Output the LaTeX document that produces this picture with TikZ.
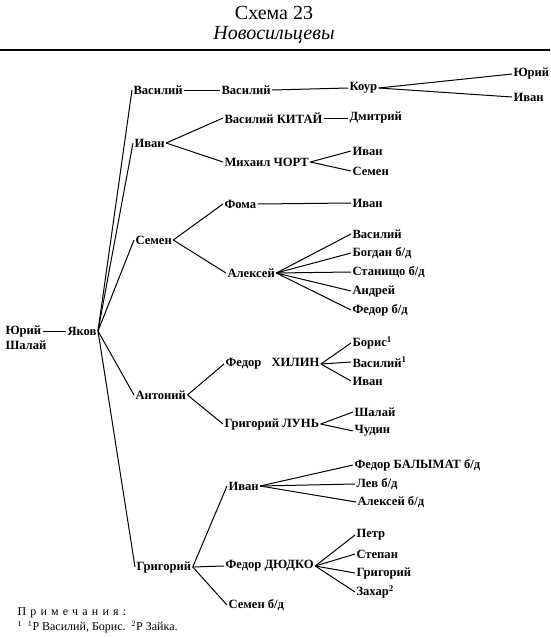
\documentclass[tikz,border=0pt]{standalone}
\usepackage{fontspec}
\setmainfont{Liberation Serif}
\begin{document}
\begin{tikzpicture}[
    x=1pt, y=-1pt,
    Person/.style={anchor=west, inner sep=1pt, font=\bfseries\fontsize{12.6}{13}\selectfont},
    every path/.style={line width=1pt},
  ]
  \useasboundingbox (0,0) rectangle (550,637);

  % heading
  \node [font=\fontsize{20}{22}\selectfont] (title) at (274,13) {Схема 23};
  \node [font=\itshape\fontsize{20}{22}\selectfont] (family) at (274,35) {Новосильцевы};
  \draw [line width=1.1pt] (0,50) -- (550,50);

  % root
  \node [Person] (yuriy) at (4,331) {Юрий};
  \node [Person] (shalay) at (4,345) {Шалай};
  \node [Person] (yakov) at (66,331) {Яков};
  \draw (yuriy.east) -- (yakov.west);

  % sons of Yakov
  \node [Person] (vas1) at (132,90) {Василий};
  \node [Person] (ivan1) at (133,143) {Иван};
  \node [Person] (semen1) at (134,240) {Семен};
  \node [Person] (anton1) at (134,395) {Антоний};
  \node [Person] (grig1) at (135,567) {Григорий};
  \foreach \son in {vas1,ivan1,semen1,anton1,grig1}
    \draw (yakov.east) -- (\son.west);

  % Vasiliy
  \node [Person] (vas2) at (220,90) {Василий};
  \node [Person] (kour) at (348,88) {Коур};
  \node [Person] (yuriy4) at (512,74) {Юрий};
  \node [Person] (ivan4) at (512,97) {Иван};
  \draw (vas1.east) -- (vas2.west);
  \draw (vas2.east) -- (kour.west);
  \draw (kour.east) -- (yuriy4.west);
  \draw (kour.east) -- (ivan4.west);

  % Ivan
  \node [Person] (kitay) at (223,118) {Василий КИТАЙ};
  \node [Person] (dmitr) at (348,118) {Дмитрий};
  \node [Person] (chort) at (223,162) {Михаил ЧОРТ};
  \node [Person] (ivan3a) at (351,151) {Иван};
  \node [Person] (semen3) at (351,171) {Семен};
  \draw (ivan1.east) -- (kitay.west);
  \draw (ivan1.east) -- (chort.west);
  \draw (kitay.east) -- (dmitr.west);
  \draw (chort.east) -- (ivan3a.west);
  \draw (chort.east) -- (semen3.west);

  % Semen
  \node [Person] (foma) at (223,204) {Фома};
  \node [Person] (ivan3b) at (351,203) {Иван};
  \node [Person] (aleks) at (226,273) {Алексей};
  \node [Person] (vas3) at (351,234) {Василий};
  \node [Person] (bogdan) at (351,253) {Богдан б/д};
  \node [Person] (stan) at (351,272) {Станищо б/д};
  \node [Person] (andrey) at (351,291) {Андрей};
  \node [Person] (fedor3) at (351,310) {Федор б/д};
  \draw (semen1.east) -- (foma.west);
  \draw (semen1.east) -- (aleks.west);
  \draw (foma.east) -- (ivan3b.west);
  \foreach \son in {vas3,bogdan,stan,andrey,fedor3}
    \draw (aleks.east) -- (\son.west);

  % Antoniy
  \node [Person] (khilin) at (224,364) {Федор\hspace{0.8em}ХИЛИН};
  \node [Person] (boris) at (351,343) {Борис\textsuperscript{1}};
  \node [Person] (vas3b) at (351,362) {Василий\textsuperscript{1}};
  \node [Person] (ivan3c) at (351,381) {Иван};
  \node [Person] (lun) at (223,424) {Григорий ЛУНЬ};
  \node [Person] (shalay3) at (353,412) {Шалай};
  \node [Person] (chudin) at (353,431) {Чудин};
  \draw (anton1.east) -- (khilin.west);
  \draw (anton1.east) -- (lun.west);
  \foreach \son in {boris,vas3b,ivan3c}
    \draw (khilin.east) -- (\son.west);
  \draw (lun.east) -- (shalay3.west);
  \draw (lun.east) -- (chudin.west);

  % Grigoriy
  \node [Person] (ivan2) at (227,486) {Иван};
  \node [Person] (dyudko) at (224,566) {Федор ДЮДКО};
  \node [Person] (semen2) at (227,605) {Семен б/д};
  \node [Person] (balymat) at (353,465) {Федор БАЛЫМАТ б/д};
  \node [Person] (lev) at (355,484) {Лев б/д};
  \node [Person] (aleks3) at (356,502) {Алексей б/д};
  \node [Person] (petr) at (355,535) {Петр};
  \node [Person] (stepan) at (355,554) {Степан};
  \node [Person] (grig3) at (355,573) {Григорий};
  \node [Person] (zakhar) at (355,592) {Захар\textsuperscript{2}};
  \foreach \son in {ivan2,dyudko,semen2}
    \draw (grig1.east) -- (\son.west);
  \foreach \son in {balymat,lev,aleks3}
    \draw (ivan2.east) -- (\son.west);
  \foreach \son in {petr,stepan,grig3,zakhar}
    \draw (dyudko.east) -- (\son.west);

  % notes
  \node [anchor=west, inner sep=1pt, font=\fontsize{12}{13}\selectfont\addfontfeatures{LetterSpace=35}] (notes) at (16,613) {Примечания:};
  \node [anchor=west, inner sep=1pt, font=\fontsize{12}{13}\selectfont] (footnote) at (16,627)
    {\textsuperscript{1}\ \ \textsuperscript{1}Р Василий, Борис.\ \ \textsuperscript{2}Р Зайка.};
\end{tikzpicture}
\end{document}
